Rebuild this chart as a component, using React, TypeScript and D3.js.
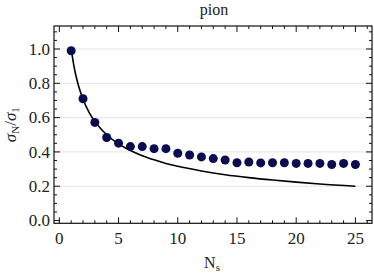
import React, { useRef, useEffect } from 'react';
import * as d3 from 'd3';

// lattice points: sigma_N / sigma_1 for pion
const ns = [1, 2, 3, 4, 5, 6, 7, 8, 9, 10, 11, 12, 13, 14, 15, 16, 17, 18, 19, 20, 21, 22, 23, 24, 25];
const ratios = [0.99, 0.71, 0.572, 0.484, 0.451, 0.431, 0.431, 0.419, 0.419, 0.392, 0.382, 0.371, 0.361, 0.353, 0.337,
  0.341, 0.336, 0.337, 0.337, 0.333, 0.333, 0.333, 0.327, 0.333, 0.327];

// reference curve (1/sqrt N)
const curveN = [1, 1.25, 1.5, 1.75, 2, 2.5, 3, 3.5, 4, 5, 6, 7, 8, 9, 10, 12, 14, 16, 18, 20, 22, 25];
const curveVals = [1, 0.894, 0.816, 0.756, 0.707, 0.632, 0.577, 0.535, 0.5, 0.447, 0.408, 0.378, 0.354, 0.333, 0.316,
  0.289, 0.267, 0.25, 0.236, 0.224, 0.213, 0.2];

const xTicks = [0, 5, 10, 15, 20, 25];
const yTicks = [0, 0.2, 0.4, 0.6, 0.8, 1.0];

const FONT = 'Liberation Serif';

const App: React.FC = () => {
  const svgRef = useRef<SVGSVGElement>(null);

  useEffect(() => {
    if (!svgRef.current) return;
    const width = 374, height = 273;
    const left = 54, right = 372, top = 26, bottom = 223.3;

    const x = d3.scaleLinear().domain([-0.45, 26.4]).range([left, right]);
    const y = d3.scaleLinear().domain([-0.016, 1.134]).range([bottom, top]);

    const svg = d3.select(svgRef.current)
      .attr('width', width)
      .attr('height', height)
      .style('font-family', FONT);
    svg.selectAll('*').remove();

    // grid
    svg.append('g')
      .selectAll('line')
      .data(yTicks.slice(1))
      .join('line')
      .attr('x1', left).attr('x2', right)
      .attr('y1', d => y(d)).attr('y2', d => y(d))
      .attr('stroke', '#e4e4e4')
      .attr('stroke-width', 1);

    // frame
    svg.append('rect')
      .attr('x', left).attr('y', top)
      .attr('width', right - left).attr('height', bottom - top)
      .attr('fill', 'none')
      .attr('stroke', '#111')
      .attr('stroke-width', 1.2);

    // ticks on all four sides
    const ticks = svg.append('g').attr('stroke', '#111').attr('stroke-width', 1);
    d3.range(0, 27, 1).forEach(v => {
      const len = v % 5 === 0 ? 6 : 3;
      ticks.append('line').attr('x1', x(v)).attr('x2', x(v)).attr('y1', bottom).attr('y2', bottom - len);
      ticks.append('line').attr('x1', x(v)).attr('x2', x(v)).attr('y1', top).attr('y2', top + len);
    });
    d3.range(0, 23, 1).forEach(i => {
      const v = i * 0.05;
      const len = i % 4 === 0 ? 6 : 3;
      ticks.append('line').attr('x1', left).attr('x2', left + len).attr('y1', y(v)).attr('y2', y(v));
      ticks.append('line').attr('x1', right).attr('x2', right - len).attr('y1', y(v)).attr('y2', y(v));
    });

    // tick labels
    svg.append('g')
      .selectAll('text')
      .data(xTicks)
      .join('text')
      .attr('x', d => x(d))
      .attr('y', 244)
      .attr('text-anchor', 'middle')
      .style('font-family', FONT)
      .attr('font-size', 17)
      .attr('fill', '#222')
      .text(d => d);

    svg.append('g')
      .selectAll('text')
      .data(yTicks)
      .join('text')
      .attr('x', left - 4)
      .attr('y', d => y(d))
      .attr('dy', '0.33em')
      .attr('text-anchor', 'end')
      .style('font-family', FONT)
      .attr('font-size', 17)
      .attr('fill', '#222')
      .text(d => d.toFixed(1));

    // curve
    const line = d3.line<number>()
      .x((_, i) => x(curveN[i]))
      .y(d => y(d))
      .curve(d3.curveMonotoneX);
    svg.append('path')
      .datum(curveVals)
      .attr('d', line)
      .attr('fill', 'none')
      .attr('stroke', '#000')
      .attr('stroke-width', 1.6);

    // points
    svg.append('g')
      .selectAll('circle')
      .data(ratios)
      .join('circle')
      .attr('cx', (_, i) => x(ns[i]))
      .attr('cy', d => y(d))
      .attr('r', 4.5)
      .attr('fill', '#0b0b4f');

    // title
    svg.append('text')
      .attr('x', 214).attr('y', 15)
      .attr('text-anchor', 'middle')
      .style('font-family', FONT)
      .attr('font-size', 16)
      .attr('fill', '#222')
      .text('pion');

    // x label
    const xl = svg.append('text')
      .attr('x', 212).attr('y', 268)
      .attr('text-anchor', 'middle')
      .style('font-family', FONT)
      .attr('font-size', 16)
      .attr('fill', '#222');
    xl.append('tspan').text('N');
    xl.append('tspan').attr('font-size', 11).attr('dy', 3).text('s');

    // y label
    const yl = svg.append('text')
      .attr('transform', `translate(16,${(top + bottom) / 2}) rotate(-90)`)
      .attr('text-anchor', 'middle')
      .style('font-family', FONT)
      .attr('font-size', 17)
      .attr('fill', '#222');
    yl.append('tspan').attr('font-style', 'italic').text('σ');
    yl.append('tspan').attr('font-size', 11).attr('dy', 3).text('N');
    yl.append('tspan').attr('dy', -3).text('/');
    yl.append('tspan').attr('font-style', 'italic').text('σ');
    yl.append('tspan').attr('font-size', 11).attr('dy', 3).text('1');
  }, []);

  return (
    <svg ref={svgRef} style={{ position: 'absolute', left: 0, top: 0, display: 'block' }}></svg>
  );
};

export default App;
